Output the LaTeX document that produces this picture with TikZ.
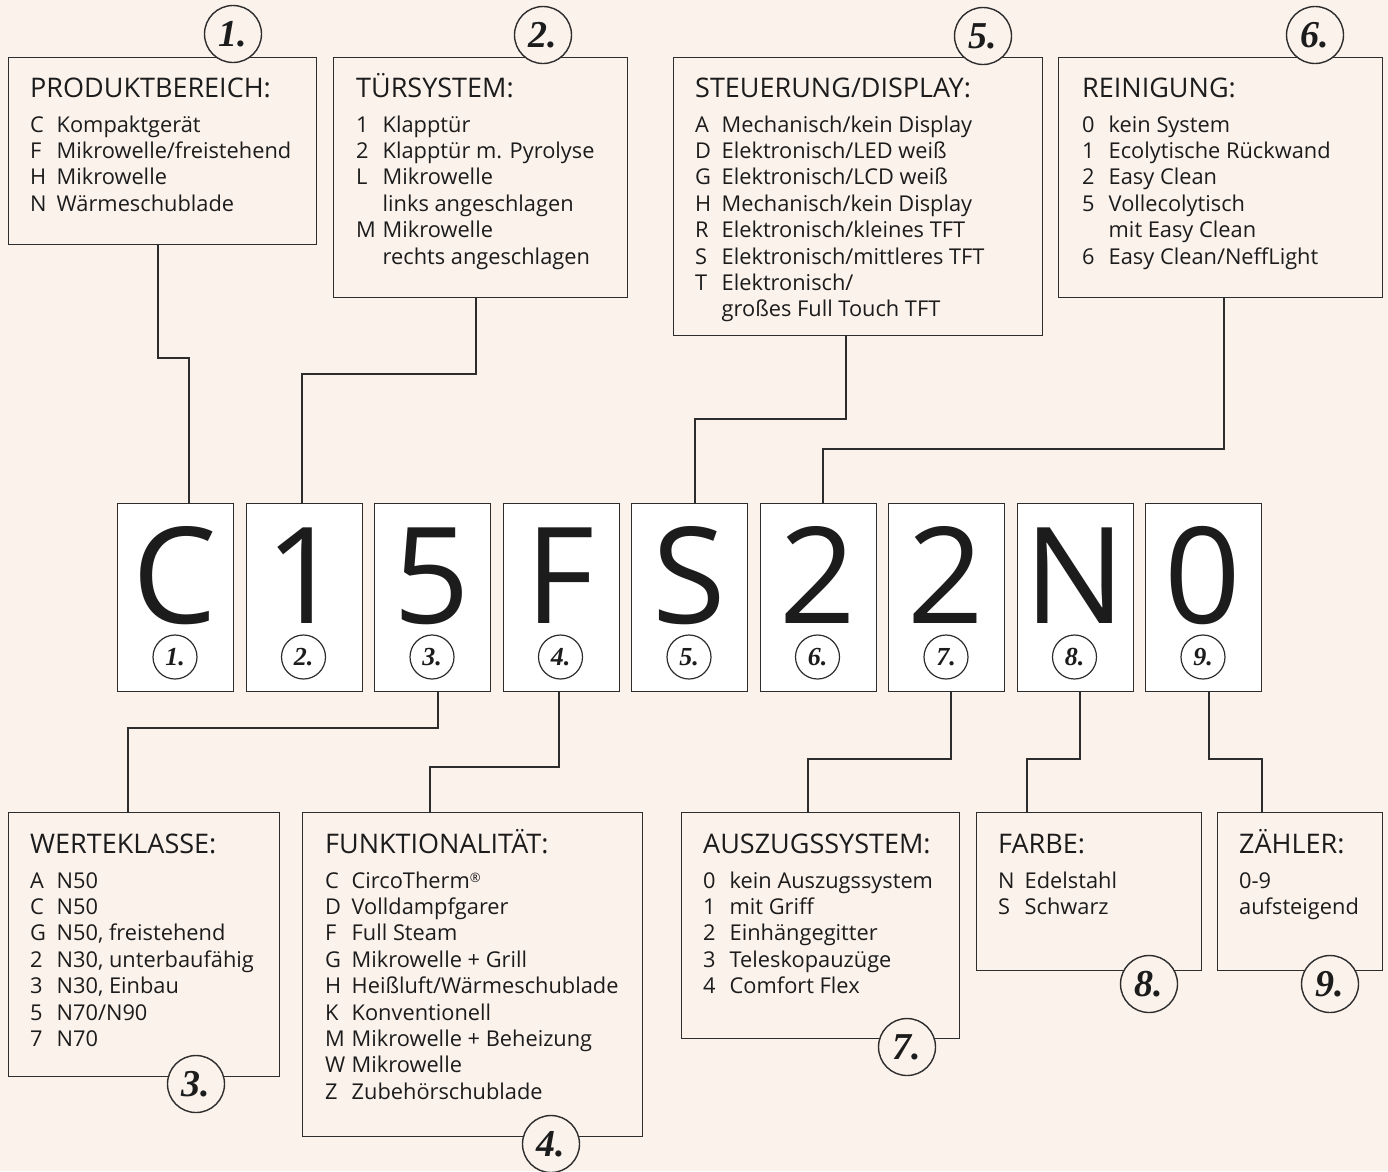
\documentclass[tikz,border=0pt]{standalone}
\usepackage{fontspec}
\setmainfont{Open Sans}
\newfontfamily\numfont{Liberation Serif}
\definecolor{bg}{RGB}{251,242,236}
\definecolor{ink}{RGB}{28,28,28}
\definecolor{wirecol}{RGB}{45,45,45}
\newcommand\codecol[1]{\makebox[26.5pt][l]{#1}}
\tikzset{
  wire/.style={draw=wirecol, line width=1.4pt},
  infobox/.style={draw=wirecol, line width=1.4pt, fill=bg, inner sep=0pt, anchor=north west},
  digitbox/.style={draw=wirecol, line width=1.4pt, fill=white, inner sep=0pt, anchor=north west, minimum width=116pt, minimum height=188pt},
  bignum/.style={circle, draw=wirecol, line width=1.4pt, fill=bg, minimum size=57pt, inner sep=0pt, text=ink, font=\numfont\bfseries\itshape\fontsize{38}{38}\selectfont},
  smallnum/.style={circle, draw=wirecol, line width=1.2pt, fill=white, minimum size=44pt, inner sep=0pt, text=ink, font=\numfont\bfseries\itshape\fontsize{26}{26}\selectfont},
  head/.style={anchor=base west, inner sep=0pt, text=ink, font=\fontsize{27}{30}\selectfont},
  items/.style={anchor=base west, inner sep=0pt, text=ink, font=\fontsize{21.8}{26.4}\selectfont},
  bigletter/.style={anchor=base, inner sep=0pt, text=ink, font=\fontsize{134}{134}\selectfont},
}
\begin{document}
\begin{tikzpicture}[x=1pt,y=-1pt]
\useasboundingbox (0,0) rectangle (1388,1171);
\fill[bg] (0,0) rectangle (1388,1171);

% digit boxes
\foreach \ch [count=\i] in {C,1,5,F,S,2,2,N,0} {
  \pgfmathsetmacro\xx{117+128.5*(\i-1)}
  \node[digitbox] (d\i) at (\xx,503) {};
  \node[bigletter] (t\i) at ({\xx+58},623) {\ch};
  \node[smallnum] (s\i) at ({\xx+58},657) {\i.};
}

% top boxes
\node[infobox, minimum width=308pt, minimum height=187pt] (b1) at (8,57) {};
\node[infobox, minimum width=294pt, minimum height=240pt] (b2) at (333,57) {};
\node[infobox, minimum width=369pt, minimum height=278pt] (b5) at (673,57) {};
\node[infobox, minimum width=324pt, minimum height=240pt] (b6) at (1058,57) {};

% bottom boxes
\node[infobox, minimum width=271pt, minimum height=264pt] (w3) at (8,812) {};
\node[infobox, minimum width=340pt, minimum height=324pt] (w4) at (302,812) {};
\node[infobox, minimum width=278pt, minimum height=226pt] (w7) at (681,812) {};
\node[infobox, minimum width=225pt, minimum height=158pt] (w8) at (976,812) {};
\node[infobox, minimum width=165pt, minimum height=158pt] (w9) at (1217,812) {};

% connectors top
\coordinate (j1) at (158,358); \coordinate (e1) at (189,358);
\draw[wire] (b1.south -| j1) -- (j1) -- (e1) -- (e1 |- d1.north);
\coordinate (j2) at (476,374); \coordinate (e2) at (302,374);
\draw[wire] (b2.south -| j2) -- (j2) -- (e2) -- (e2 |- d2.north);
\coordinate (j5) at (846,419); \coordinate (e5) at (695,419);
\draw[wire] (b5.south -| j5) -- (j5) -- (e5) -- (e5 |- d5.north);
\coordinate (j6) at (1224,449); \coordinate (e6) at (823,449);
\draw[wire] (b6.south -| j6) -- (j6) -- (e6) -- (e6 |- d6.north);

% connectors bottom
\coordinate (j3) at (438,728); \coordinate (e3) at (128,728);
\draw[wire] (d3.south -| j3) -- (j3) -- (e3) -- (e3 |- w3.north);
\coordinate (j4) at (559,767); \coordinate (e4) at (430,767);
\draw[wire] (d4.south -| j4) -- (j4) -- (e4) -- (e4 |- w4.north);
\coordinate (j7) at (951,759); \coordinate (e7) at (808,759);
\draw[wire] (d7.south -| j7) -- (j7) -- (e7) -- (e7 |- w7.north);
\coordinate (j8) at (1080,759); \coordinate (e8) at (1027,759);
\draw[wire] (d8.south -| j8) -- (j8) -- (e8) -- (e8 |- w8.north);
\coordinate (j9) at (1209,759); \coordinate (e9) at (1262,759);
\draw[wire] (d9.south -| j9) -- (j9) -- (e9) -- (e9 |- w9.north);

% texts top
\node[head] (h1) at (30,97) {PRODUKTBEREICH:};
\node[items] (i1) at (30,132) {\begin{tabular}[t]{@{}l@{}}
\codecol{C}Kompaktgerät\\
\codecol{F}Mikrowelle/freistehend\\
\codecol{H}Mikrowelle\\
\codecol{N}Wärmeschublade
\end{tabular}};

\node[head] (h2) at (356,97) {TÜRSYSTEM:};
\node[items] (i2) at (356,132) {\begin{tabular}[t]{@{}l@{}}
\codecol{1}Klapptür\\
\codecol{2}Klapptür m. Pyrolyse\\
\codecol{L}Mikrowelle\\
\codecol{}links angeschlagen\\
\codecol{M}Mikrowelle\\
\codecol{}rechts angeschlagen
\end{tabular}};

\node[head] (h5) at (695,97) {STEUERUNG/DISPLAY:};
\node[items] (i5) at (695,132) {\begin{tabular}[t]{@{}l@{}}
\codecol{A}Mechanisch/kein Display\\
\codecol{D}Elektronisch/LED weiß\\
\codecol{G}Elektronisch/LCD weiß\\
\codecol{H}Mechanisch/kein Display\\
\codecol{R}Elektronisch/kleines TFT\\
\codecol{S}Elektronisch/mittleres TFT\\
\codecol{T}Elektronisch/\\
\codecol{}großes Full Touch TFT
\end{tabular}};

\node[head] (h6) at (1082,97) {REINIGUNG:};
\node[items] (i6) at (1082,132) {\begin{tabular}[t]{@{}l@{}}
\codecol{0}kein System\\
\codecol{1}Ecolytische Rückwand\\
\codecol{2}Easy Clean\\
\codecol{5}Vollecolytisch\\
\codecol{}mit Easy Clean\\
\codecol{6}Easy Clean/NeffLight
\end{tabular}};

% texts bottom
\node[head] (h3) at (30,853) {WERTEKLASSE:};
\node[items] (i3) at (30,888) {\begin{tabular}[t]{@{}l@{}}
\codecol{A}N50\\
\codecol{C}N50\\
\codecol{G}N50, freistehend\\
\codecol{2}N30, unterbaufähig\\
\codecol{3}N30, Einbau\\
\codecol{5}N70/N90\\
\codecol{7}N70
\end{tabular}};

\node[head] (h4) at (325,853) {FUNKTIONALITÄT:};
\node[items] (i4) at (325,888) {\begin{tabular}[t]{@{}l@{}}
\codecol{C}CircoTherm{\fontsize{13}{13}\selectfont\raisebox{6pt}{®}}\\
\codecol{D}Volldampfgarer\\
\codecol{F}Full Steam\\
\codecol{G}Mikrowelle + Grill\\
\codecol{H}Heißluft/Wärmeschublade\\
\codecol{K}Konventionell\\
\codecol{M}Mikrowelle + Beheizung\\
\codecol{W}Mikrowelle\\
\codecol{Z}Zubehörschublade
\end{tabular}};

\node[head] (h7) at (703,853) {AUSZUGSSYSTEM:};
\node[items] (i7) at (703,888) {\begin{tabular}[t]{@{}l@{}}
\codecol{0}kein Auszugssystem\\
\codecol{1}mit Griff\\
\codecol{2}Einhängegitter\\
\codecol{3}Teleskopauzüge\\
\codecol{4}Comfort Flex
\end{tabular}};

\node[head] (h8) at (998,853) {FARBE:};
\node[items] (i8) at (998,888) {\begin{tabular}[t]{@{}l@{}}
\codecol{N}Edelstahl\\
\codecol{S}Schwarz
\end{tabular}};

\node[head] (h9) at (1239,853) {ZÄHLER:};
\node[items] (i9) at (1239,888) {\begin{tabular}[t]{@{}l@{}}
0-9\\
aufsteigend
\end{tabular}};

% numbered circles
\node[bignum] (c1) at (233,34) {1.};
\node[bignum] (c2) at (543,35) {2.};
\node[bignum] (c5) at (983,36) {5.};
\node[bignum] (c6) at (1315,35) {6.};
\node[bignum] (c3) at (196,1084) {3.};
\node[bignum] (c4) at (551,1144) {4.};
\node[bignum] (c7) at (907,1047) {7.};
\node[bignum] (c8) at (1149,984) {8.};
\node[bignum] (c9) at (1330,984) {9.};
\end{tikzpicture}
\end{document}
